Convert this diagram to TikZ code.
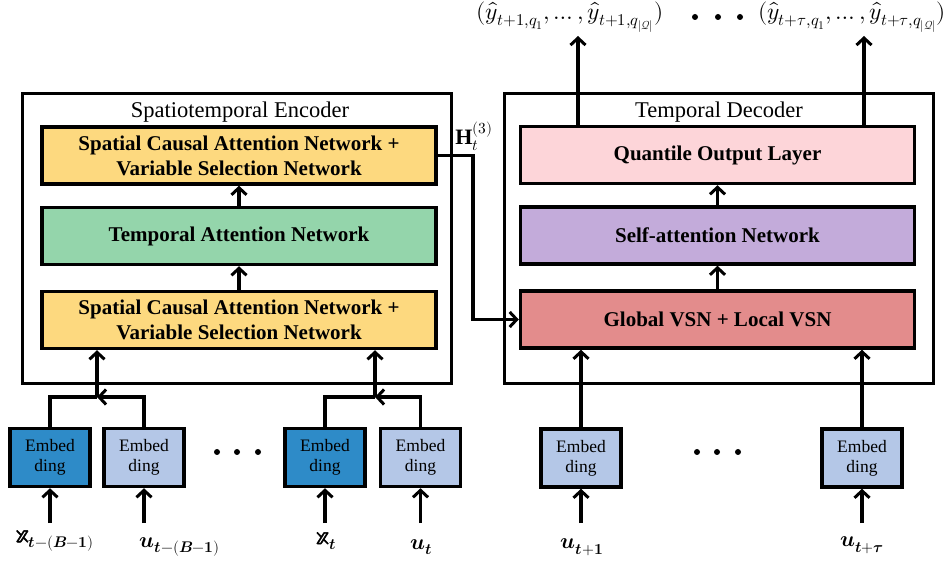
\documentclass[tikz,border=0pt]{standalone}
\usepackage{fontspec}
\usepackage{unicode-math}
\setmainfont{Liberation Serif}
\setmathfont{Latin Modern Math}
\newfontfamily\bbfont{Latin Modern Math}[FakeBold=2,Scale=1.25]
\usetikzlibrary{arrows.meta}

\definecolor{scanyellow}{HTML}{FDD97F}
\definecolor{tangreen}{HTML}{94D5AB}
\definecolor{qolpink}{HTML}{FDD5D9}
\definecolor{sapurple}{HTML}{C3ABDA}
\definecolor{vsnred}{HTML}{E38C8C}
\definecolor{xblue}{HTML}{2E8BC8}
\definecolor{ublue}{HTML}{B4C7E7}

\newcommand\blockfont{\bfseries\fontsize{21}{25}\selectfont}
\newcommand\embedfont{\fontsize{17.5}{20}\selectfont}
\newcommand\titlefont{\fontsize{22.5}{26}\selectfont}
\newcommand\labfont{\fontsize{22}{26}\selectfont}
\newcommand\outfont{\fontsize{23.5}{28}\selectfont}
\newcommand\bbx{\text{\bbfont 𝕩}}

\tikzset{
  block/.style={draw, line width=3.5pt, minimum width=394pt, minimum height=57pt, align=center, font=\blockfont, inner sep=0pt},
  embed/.style={draw, line width=3.5pt, minimum width=80pt, minimum height=58pt, align=center, font=\embedfont, inner sep=0pt},
  frame/.style={draw, line width=3.5pt, minimum width=429pt, minimum height=290pt},
  wire/.style={line width=3.5pt, line join=miter},
  flow/.style={wire, -{Straight Barb[length=7pt,width=15pt,line width=3pt]}},
}

\begin{document}
\begin{tikzpicture}[x=1pt,y=-1pt]
\useasboundingbox (0,0) rectangle (946,561);
% encoder
\node[frame] (enc) at (237,238.5) {};
\node[font=\titlefont] (enctitle) at (240,112) {Spatiotemporal Encoder};
\node[block, fill=scanyellow] (scan2) at (239,155.5) {Spatial Causal Attention Network +\\Variable Selection Network};
\node[block, fill=tangreen] (tan) at (239,236) {Temporal Attention Network};
\node[block, fill=scanyellow] (scan1) at (239,320) {Spatial Causal Attention Network +\\Variable Selection Network};
\draw[flow] (scan1.north) -- (tan.south);
\draw[flow] (tan.north) -- (scan2.south);
% decoder
\node[frame] (dec) at (719,238.5) {};
\node[font=\titlefont] (dectitle) at (719,112) {Temporal Decoder};
\node[block, fill=qolpink] (qol) at (717.5,155) {Quantile Output Layer};
\node[block, fill=sapurple] (sa) at (717.5,235.5) {Self-attention Network};
\node[block, fill=vsnred] (vsn) at (717.5,319.5) {Global VSN + Local VSN};
\draw[flow] (vsn.north) -- (sa.south);
\draw[flow] (sa.north) -- (qol.south);
% encoder output to decoder
\coordinate (hbend) at (473,155.5);
\draw[flow] (scan2.east) -- (hbend) |- (vsn.west);
\node[font=\labfont] (hlab) at (474,136) {$\mathbf{H}_t^{(3)}$};
% embeddings
\node[embed, fill=xblue] (e1) at (50,457.5) {Embed\\ding};
\node[embed, fill=ublue] (e2) at (144,457.5) {Embed\\ding};
\node[embed, fill=xblue] (e3) at (325,457.5) {Embed\\ding};
\node[embed, fill=ublue] (e4) at (420.5,457.5) {Embed\\ding};
\node[embed, fill=ublue] (e5) at (581,458) {Embed\\ding};
\node[embed, fill=ublue] (e6) at (862,458) {Embed\\ding};
\foreach \x in {217,237,258,697,717,738}
  \fill (\x,452) circle (3pt);
% inputs
\foreach \e/\x in {e1/50,e2/144,e3/325,e4/420.5,e5/581,e6/862}{
  \coordinate (in\e) at (\x,523);
  \draw[flow] (in\e) -- (\e.south);
}
\node[font=\labfont] (lx1) at (55,541) {$\bbx_{\symbfit{t}\symbf{-}(\symbfit{B}\symbf{-1})}$};
\node[font=\labfont] (lu1) at (180,547) {$\symbfit{u}_{\symbfit{t}\symbf{-}(\symbfit{B}\symbf{-1})}$};
\node[font=\labfont] (lx2) at (326,541) {$\bbx_{\symbfit{t}}$};
\node[font=\labfont] (lu2) at (421,547) {$\symbfit{u}_{\symbfit{t}}$};
\node[font=\labfont] (lu3) at (582,547) {$\symbfit{u}_{\symbfit{t}\symbf{+1}}$};
\node[font=\labfont] (lu4) at (862,545) {$\symbfit{u}_{\symbfit{t}\symbf{+}\symbfit{\tau}}$};
% merge into encoder
\coordinate (m1) at (97,397);
\coordinate (m2) at (375,397);
\draw[wire] (e1.north) |- (m1);
\draw[flow] (e2.north) |- (m1);
\draw[flow] (m1) -- (m1 |- scan1.south);
\draw[wire] (e3.north) |- (m2);
\draw[flow] (e4.north) |- (m2);
\draw[flow] (m2) -- (m2 |- scan1.south);
% into decoder
\draw[flow] (e5.north) -- (e5.north |- vsn.south);
\draw[flow] (e6.north) -- (e6.north |- vsn.south);
% outputs
\coordinate (o1) at (578,36);
\coordinate (o2) at (864,36);
\draw[flow] (qol.north -| o1) -- (o1);
\draw[flow] (qol.north -| o2) -- (o2);
\node[font=\outfont] (y1) at (570,17) {$(\hat{y}_{t+1,q_1},\dots,\hat{y}_{t+1,q_{|\mathcal{Q}|}})$};
\node[font=\outfont] (y2) at (852,17) {$(\hat{y}_{t+\tau,q_1},\dots,\hat{y}_{t+\tau,q_{|\mathcal{Q}|}})$};
\foreach \x in {695,718,740}
  \fill (\x,17) circle (3pt);
\end{tikzpicture}
\end{document}
